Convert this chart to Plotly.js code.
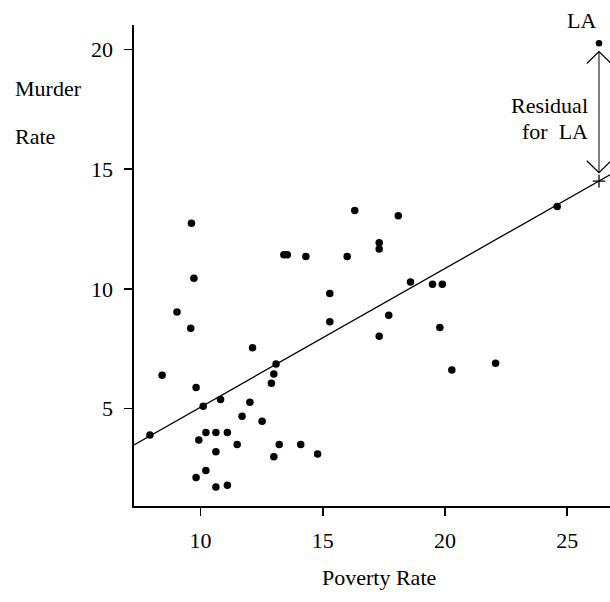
<!DOCTYPE html>
<html>
<head>
<meta charset="utf-8">
<script src="https://cdn.plot.ly/plotly-3.0.1.min.js"></script>
<style>
  html, body { margin: 0; padding: 0; background: #ffffff; }
  #chart { width: 610px; height: 602px; }
</style>
</head>
<body>
<div id="chart"></div>
<script>
// Poverty rate (%) and murder rate (per 100,000) for the 50 states
const povertyRate = [
  7.93, 8.43, 9.04, 9.60, 9.63, 9.73, 9.82, 9.82, 9.93, 10.11,
  10.22, 10.22, 10.63, 10.63, 10.63, 10.82, 11.10, 11.10, 11.50, 11.70,
  12.02, 12.13, 12.52, 12.90, 13.00, 13.09, 13.00, 13.22, 13.41, 13.55,
  14.10, 14.31, 14.79, 15.29, 15.29, 16.00, 16.31, 17.31, 17.31, 17.31,
  17.70, 18.09, 18.59, 19.49, 19.89, 19.79, 20.28, 22.07, 24.59
];
const murderRate = [
  3.89, 6.39, 9.03, 8.35, 12.74, 10.44, 5.87, 2.11, 3.68, 5.09,
  3.99, 2.40, 3.99, 3.19, 1.71, 5.37, 3.99, 1.79, 3.49, 4.67,
  5.26, 7.54, 4.46, 6.05, 6.44, 6.86, 2.98, 3.49, 11.42, 11.42,
  3.49, 11.35, 3.09, 9.80, 8.62, 11.35, 13.27, 11.93, 11.66, 8.02,
  8.90, 13.06, 10.29, 10.19, 10.19, 8.38, 6.61, 6.89, 13.44
];

// Louisiana, the labelled outlier
const laPoverty = 26.3;
const laMurder = 20.27;

// Least-squares prediction equation: murder = intercept + slope * poverty
const intercept = -0.75;
const slope = 0.58;

const xRange = [7.28, 26.75];
const yRange = [0.92, 21.03];
const xTicks = [10, 15, 20, 25];
const yTicks = [5, 10, 15, 20];

const predict = x => intercept + slope * x;
const laPredicted = predict(laPoverty);

const serif = 'Liberation Serif, Times New Roman, serif';

const traces = [
  {
    type: 'scatter', mode: 'lines',
    x: xRange, y: xRange.map(predict),
    line: { color: '#000', width: 1.3 },
    hoverinfo: 'skip'
  },
  {
    type: 'scatter', mode: 'markers',
    x: povertyRate, y: murderRate,
    marker: { color: '#000', size: 7.5 }
  },
  {
    type: 'scatter', mode: 'markers',
    x: [laPoverty], y: [laMurder],
    marker: { color: '#000', size: 6.5 }
  },
  {
    type: 'scatter', mode: 'markers',
    x: [laPoverty], y: [laPredicted],
    marker: { color: '#000', size: 9, symbol: 'cross-thin-open', line: { color: '#000', width: 1.3 } }
  }
];

// residual arrow: shaft plus open chevron heads
const gap = 0.35;
const arrowTop = laMurder - gap;
const arrowBottom = laPredicted + gap;
const headW = 0.5;
const headH = 0.5;
const shapes = [
  { type: 'line', xref: 'x', yref: 'y', x0: laPoverty, x1: laPoverty, y0: arrowBottom, y1: arrowTop,
    line: { color: '#000', width: 1 } },
  { type: 'path', xref: 'x', yref: 'y',
    path: `M ${laPoverty - headW},${arrowTop - headH} L ${laPoverty},${arrowTop} L ${laPoverty + headW},${arrowTop - headH}`,
    line: { color: '#000', width: 1.2 } },
  { type: 'path', xref: 'x', yref: 'y',
    path: `M ${laPoverty - headW},${arrowBottom + headH} L ${laPoverty},${arrowBottom} L ${laPoverty + headW},${arrowBottom + headH}`,
    line: { color: '#000', width: 1.2 } }
];

const textFont = { family: serif, size: 22, color: '#000' };
const annotations = [
  { text: 'Murder', xref: 'paper', yref: 'paper', x: -0.254, y: 0.869, xanchor: 'left', yanchor: 'middle', showarrow: false, font: textFont },
  { text: 'Rate', xref: 'paper', yref: 'paper', x: -0.254, y: 0.769, xanchor: 'left', yanchor: 'middle', showarrow: false, font: textFont },
  { text: 'Poverty Rate', xref: 'paper', yref: 'paper', x: 0.515, y: -0.148, xanchor: 'center', yanchor: 'middle', showarrow: false, font: textFont },
  { text: 'LA', xref: 'paper', yref: 'paper', x: 0.941, y: 1.01, xanchor: 'center', yanchor: 'middle', showarrow: false, font: textFont },
  { text: 'Residual', xref: 'paper', yref: 'paper', x: 0.958, y: 0.832, xanchor: 'right', yanchor: 'middle', showarrow: false, font: textFont },
  { text: 'for  LA', xref: 'paper', yref: 'paper', x: 0.958, y: 0.778, xanchor: 'right', yanchor: 'middle', showarrow: false, font: textFont }
];

const axisCommon = {
  showgrid: false, zeroline: false, showline: true,
  linecolor: '#000', linewidth: 1.6,
  ticks: 'outside', ticklen: 8, tickwidth: 1.6, tickcolor: '#000',
  tickfont: { family: serif, size: 22, color: '#000' },
  fixedrange: true
};

const layout = {
  width: 610, height: 602,
  margin: { l: 134, r: 0, t: 25, b: 96 },
  paper_bgcolor: '#fff', plot_bgcolor: '#fff',
  showlegend: false,
  xaxis: Object.assign({}, axisCommon, { range: xRange, tickvals: xTicks, ticklabelstandoff: 6 }),
  yaxis: Object.assign({}, axisCommon, { range: yRange, tickvals: yTicks, ticklabelstandoff: 7 }),
  shapes: shapes,
  annotations: annotations
};

Plotly.newPlot('chart', traces, layout, { displayModeBar: false, staticPlot: true });
</script>
</body>
</html>
